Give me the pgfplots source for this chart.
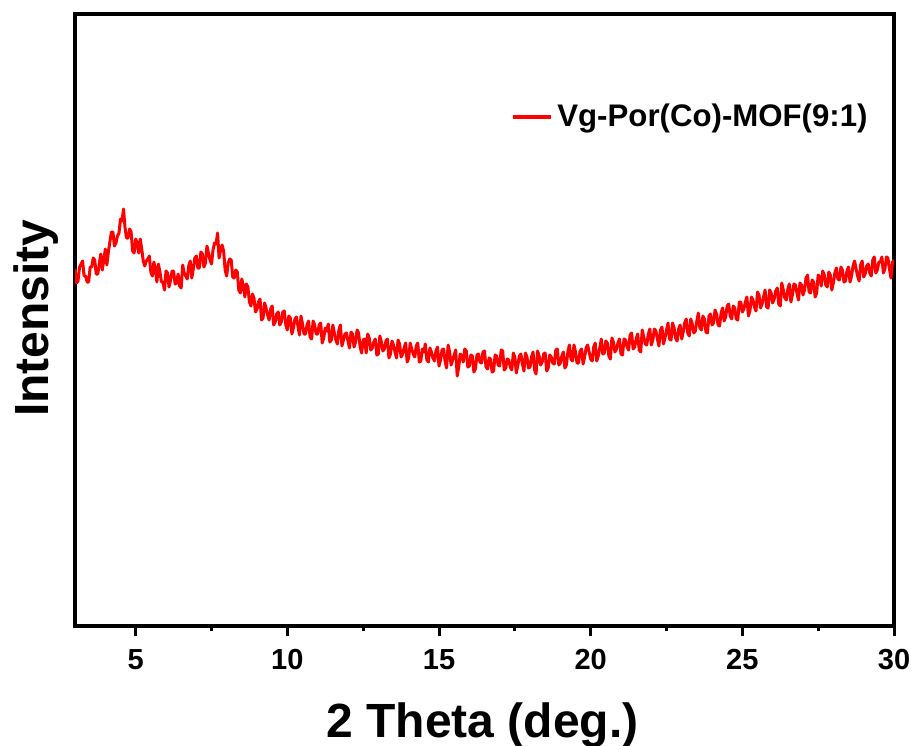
\documentclass[border=0pt]{standalone}
\usepackage{fontspec}
\setmainfont{Liberation Sans}
\usepackage{pgfplots}
\pgfplotsset{compat=1.18}
\usepackage{pgfplotstable}
\pgfplotstableread{
x y
3.0 357
3.05 343
3.1 345
3.15 359
3.2 362
3.25 365
3.3 350
3.35 350
3.4 344
3.45 344
3.5 359
3.55 359
3.6 368
3.65 366
3.7 352
3.75 352
3.8 362
3.85 372
3.9 356
3.95 366
4.0 377
4.05 361
4.1 374
4.15 384
4.2 394
4.25 394
4.3 380
4.35 383
4.4 390
4.45 393
4.5 407
4.55 405
4.6 417
4.65 398
4.7 388
4.75 388
4.8 397
4.85 394
4.9 375
4.95 373
5.0 387
5.05 383
5.1 373
5.15 387
5.2 377
5.25 365
5.3 360
5.35 365
5.4 367
5.45 370
5.5 354
5.55 350
5.6 364
5.65 357
5.7 344
5.75 362
5.8 354
5.85 344
5.9 344
5.95 336
6.0 355
6.05 353
6.1 339
6.15 346
6.2 355
6.25 355
6.3 342
6.35 343
6.4 352
6.45 340
6.5 338
6.55 361
6.6 353
6.65 350
6.7 347
6.75 360
6.8 365
6.85 348
6.9 357
6.95 368
7.0 370
7.05 358
7.1 358
7.15 374
7.2 372
7.25 359
7.3 363
7.35 380
7.4 373
7.45 366
7.5 362
7.55 376
7.6 383
7.65 382
7.7 393
7.75 368
7.8 376
7.85 381
7.9 375
7.95 356
8.0 350
8.05 363
8.1 367
8.15 366
8.2 349
8.25 348
8.3 356
8.35 354
8.4 336
8.45 333
8.5 347
8.55 340
8.6 329
8.65 342
8.7 339
8.75 324
8.8 320
8.85 332
8.9 328
8.95 314
9.0 317
9.05 324
9.1 327
9.15 306
9.2 308
9.25 323
9.3 318
9.35 311
9.4 306
9.45 317
9.5 320
9.55 301
9.6 304
9.65 312
9.7 314
9.75 301
9.8 304
9.85 314
9.9 315
9.95 301
10.0 296
10.05 310
10.1 308
10.15 292
10.2 298
10.25 307
10.3 309
10.35 300
10.4 291
10.45 310
10.5 302
10.55 292
10.6 292
10.65 301
10.7 305
10.75 289
10.8 287
10.85 305
10.9 301
10.95 292
11.0 292
11.05 301
11.1 303
11.15 283
11.2 288
11.25 298
11.3 295
11.35 302
11.4 284
11.45 286
11.5 301
11.55 293
11.6 286
11.65 282
11.7 296
11.75 301
11.8 280
11.85 286
11.9 292
11.95 293
12.0 285
12.05 278
12.1 294
12.15 292
12.2 279
12.25 284
12.3 296
12.35 293
12.4 279
12.45 273
12.5 286
12.55 287
12.6 273
12.65 292
12.7 288
12.75 276
12.8 278
12.85 284
12.9 287
12.95 271
13.0 272
13.05 290
13.1 284
13.15 275
13.2 277
13.25 285
13.3 287
13.35 268
13.4 272
13.45 285
13.5 281
13.55 274
13.6 268
13.65 286
13.7 282
13.75 269
13.8 272
13.85 278
13.9 283
13.95 264
14.0 268
14.05 283
14.1 277
14.15 272
14.2 269
14.25 280
14.3 283
14.35 264
14.4 265
14.45 277
14.5 274
14.55 282
14.6 266
14.65 264
14.7 278
14.75 274
14.8 268
14.85 265
14.9 275
14.95 279
15.0 260
15.05 266
15.1 276
15.15 277
15.2 265
15.25 258
15.3 281
15.35 274
15.4 261
15.45 266
15.5 271
15.55 276
15.6 250
15.65 259
15.7 272
15.75 270
15.8 264
15.85 277
15.9 275
15.95 259
16.0 260
16.05 271
16.1 270
16.15 254
16.2 257
16.25 271
16.3 272
16.35 264
16.4 263
16.45 274
16.5 275
16.55 259
16.6 257
16.65 268
16.7 267
16.75 254
16.8 255
16.85 271
16.9 270
16.95 261
17.0 260
17.05 276
17.1 275
17.15 256
17.2 258
17.25 267
17.3 266
17.35 259
17.4 256
17.45 273
17.5 269
17.55 253
17.6 261
17.65 270
17.7 272
17.75 262
17.8 255
17.85 273
17.9 269
17.95 258
18.0 259
18.05 269
18.1 274
18.15 256
18.2 252
18.25 275
18.3 270
18.35 261
18.4 264
18.45 272
18.5 273
18.55 255
18.6 258
18.65 271
18.7 269
18.75 263
18.8 262
18.85 276
18.9 277
18.95 261
19.0 263
19.05 270
19.1 274
19.15 258
19.2 261
19.25 275
19.3 281
19.35 267
19.4 265
19.45 281
19.5 274
19.55 263
19.6 263
19.65 275
19.7 277
19.75 262
19.8 269
19.85 278
19.9 281
19.95 274
20.0 267
20.05 265
20.1 279
20.15 283
20.2 265
20.25 270
20.3 278
20.35 287
20.4 272
20.45 273
20.5 285
20.55 283
20.6 270
20.65 267
20.7 288
20.75 284
20.8 274
20.85 277
20.9 283
20.95 287
21.0 272
21.05 271
21.1 287
21.15 286
21.2 279
21.25 276
21.3 291
21.35 293
21.4 277
21.45 279
21.5 287
21.55 292
21.6 276
21.65 274
21.7 296
21.75 289
21.8 282
21.85 281
21.9 292
21.95 297
22.0 281
22.05 286
22.1 297
22.15 295
22.2 287
22.25 280
22.3 296
22.35 299
22.4 282
22.45 288
22.5 296
22.55 303
22.6 287
22.65 286
22.7 303
22.75 298
22.8 288
22.85 285
22.9 297
22.95 301
23.0 287
23.05 294
23.1 303
23.15 307
23.2 293
23.25 290
23.3 307
23.35 302
23.4 293
23.45 295
23.5 305
23.55 313
23.6 298
23.65 296
23.7 310
23.75 307
23.8 294
23.85 293
23.9 310
23.95 312
24.0 301
24.05 303
24.1 316
24.15 312
24.2 301
24.25 300
24.3 313
24.35 318
24.4 305
24.45 309
24.5 320
24.55 322
24.6 310
24.65 307
24.7 320
24.75 318
24.8 307
24.85 306
24.9 324
24.95 324
25.0 314
25.05 317
25.1 324
25.15 329
25.2 310
25.25 315
25.3 329
25.35 326
25.4 319
25.45 315
25.5 334
25.55 331
25.6 318
25.65 322
25.7 329
25.75 336
25.8 319
25.85 318
25.9 336
25.95 333
26.0 323
26.05 327
26.1 335
26.15 338
26.2 322
26.25 320
26.3 343
26.35 336
26.4 328
26.45 326
26.5 337
26.55 342
26.6 324
26.65 331
26.7 342
26.75 341
26.8 333
26.85 326
26.9 343
26.95 341
27.0 331
27.05 336
27.1 348
27.15 351
27.2 334
27.25 333
27.3 346
27.35 344
27.4 329
27.45 333
27.5 351
27.55 349
27.6 340
27.65 355
27.7 351
27.75 341
27.8 339
27.85 354
27.9 351
27.95 336
28.0 343
28.05 353
28.1 358
28.15 347
28.2 346
28.25 359
28.3 356
28.35 344
28.4 345
28.45 355
28.5 359
28.55 344
28.6 350
28.65 360
28.7 365
28.75 357
28.8 350
28.85 345
28.9 361
28.95 365
29.0 349
29.05 352
29.1 360
29.15 362
29.2 353
29.25 350
29.3 366
29.35 369
29.4 353
29.45 356
29.5 364
29.55 364
29.6 369
29.65 353
29.7 357
29.75 369
29.8 368
29.85 357
29.9 348
29.95 364
30.0 366
}\xrd
\begin{document}
\begin{tikzpicture}
\begin{axis}[
  scale only axis,
  width=409.5pt, height=306pt,
  xmin=3, xmax=30, ymin=0, ymax=612,
  axis line style={line width=2pt},
  xtick={5,10,15,20,25,30},
  minor x tick num=1,
  xtick pos=bottom,
  ytick=\empty,
  tick align=outside,
  major tick length=5pt,
  minor tick length=2.5pt,
  every tick/.style={line width=1.5pt, black},
  /pgf/number format/assume math mode=true,
  tick label style={font=\fontsize{14.5}{16}\selectfont\bfseries},
  xticklabel style={anchor=base, yshift=-16.5pt},
  xlabel={2 Theta (deg.)},
  ylabel={Intensity},
  label style={font=\fontsize{24}{28}\selectfont\bfseries},
  xlabel style={at={(axis description cs:0.4976,0)}, anchor=base, yshift=-55.5pt},
  ylabel style={at={(axis description cs:0,0.503)}, anchor=base, yshift=13pt},
  legend style={at={(axis description cs:0.525,0.832)}, anchor=west, draw=none, fill=none,
    font=\fontsize{15.6}{18}\selectfont\bfseries},
  legend image code/.code={\draw[#1, line width=2pt] (0pt,0pt) -- (19pt,0pt);},
  clip=true,
]
\addplot[red, line width=1.5pt, line join=round] table[x=x, y=y] {\xrd};
\addlegendentry{Vg-Por(Co)-MOF(9:1)}
\end{axis}
\pgfresetboundingbox
\path[use as bounding box] ([xshift=-37.5pt, yshift=-59.5pt]current axis.south west) rectangle ([xshift=10.5pt, yshift=7pt]current axis.north east);
\end{tikzpicture}
\end{document}
